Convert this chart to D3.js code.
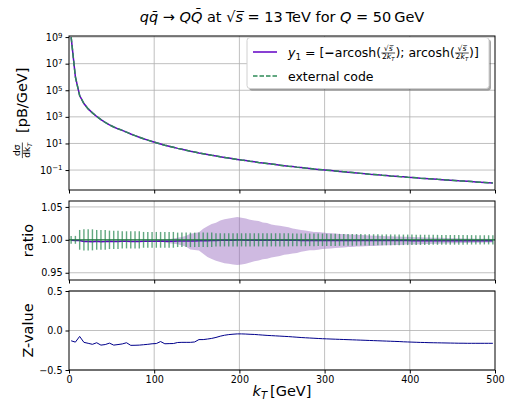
<!DOCTYPE html>
<html>
<head>
<meta charset="utf-8">
<script src="https://cdn.jsdelivr.net/npm/d3@7"></script>
<style>
  body { margin:0; background:#fff; }
  svg text { font-family:"DejaVu Sans", sans-serif; white-space:pre; }
</style>
</head>
<body>
<div id="canvas"></div>
<script>
// bin centres in GeV
var kT = [
  2.5,7.5,12.5,17.5,22.5,27.5,32.5,37.5,42.5,47.5,
  52.5,57.5,62.5,67.5,72.5,77.5,82.5,87.5,92.5,97.5,
  102.5,107.5,112.5,117.5,122.5,127.5,132.5,137.5,142.5,147.5,
  152.5,157.5,162.5,167.5,172.5,177.5,182.5,187.5,192.5,197.5,
  202.5,207.5,212.5,217.5,222.5,227.5,232.5,237.5,242.5,247.5,
  252.5,257.5,262.5,267.5,272.5,277.5,282.5,287.5,292.5,297.5,
  302.5,307.5,312.5,317.5,322.5,327.5,332.5,337.5,342.5,347.5,
  352.5,357.5,362.5,367.5,372.5,377.5,382.5,387.5,392.5,397.5,
  402.5,407.5,412.5,417.5,422.5,427.5,432.5,437.5,442.5,447.5,
  452.5,457.5,462.5,467.5,472.5,477.5,482.5,487.5,492.5,497.5
];

// log10 of dsigma/dkT [pB/GeV]
var dsigmaLog10 = [
  9.0,6.0,4.6,4.0,3.6,3.3,3.03,2.8,2.58,2.4,
  2.24,2.1,1.98,1.85,1.71,1.59,1.47,1.35,1.25,1.15,
  1.05,0.96,0.87,0.79,0.71,0.63,0.56,0.49,0.42,0.36,
  0.29,0.23,0.17,0.11,0.06,0.0,-0.05,-0.10,-0.15,-0.20,
  -0.25,-0.29,-0.34,-0.38,-0.43,-0.47,-0.51,-0.55,-0.59,-0.63,
  -0.67,-0.71,-0.74,-0.78,-0.81,-0.85,-0.88,-0.92,-0.95,-0.98,
  -1.01,-1.04,-1.07,-1.10,-1.13,-1.16,-1.19,-1.22,-1.25,-1.28,
  -1.31,-1.33,-1.36,-1.39,-1.41,-1.44,-1.46,-1.49,-1.51,-1.54,
  -1.56,-1.58,-1.61,-1.63,-1.65,-1.67,-1.70,-1.72,-1.74,-1.76,
  -1.78,-1.81,-1.83,-1.85,-1.87,-1.89,-1.91,-1.93,-1.95,-1.97
];

// ratio of y1 result to external code
var ratioY1 = [
  0.9992,0.9991,0.9989,0.9976,0.9974,0.9972,0.9977,0.9972,0.9973,0.9978,
  0.9974,0.9975,0.9978,0.998,0.9976,0.9976,0.9976,0.9978,0.9979,0.998,
  0.998,0.9983,0.998,0.998,0.998,0.9983,0.9984,0.9984,0.9984,0.9984,
  0.9987,0.9987,0.9988,0.9989,0.9991,0.9993,0.9994,0.9995,0.9995,0.9996,
  0.9996,0.9995,0.9995,0.9995,0.9995,0.9994,0.9994,0.9993,0.9993,0.9993,
  0.9993,0.9992,0.9992,0.9992,0.9991,0.9991,0.9991,0.9991,0.999,0.999,
  0.999,0.999,0.999,0.999,0.999,0.999,0.999,0.999,0.999,0.999,
  0.9989,0.9989,0.9989,0.9989,0.9989,0.9989,0.9989,0.9989,0.9989,0.9989,
  0.9988,0.9988,0.9988,0.9988,0.9988,0.9988,0.9988,0.9988,0.9988,0.9988,
  0.9988,0.9988,0.9988,0.9988,0.9988,0.9988,0.9988,0.9988,0.9988,0.9988
];

// y1 uncertainty band (up / down deviation)
var bandUp = [
  0.0005,0.0005,0.0005,0.0005,0.0005,0.0005,0.0005,0.0005,0.0005,0.0005,
  0.0008,0.0008,0.0008,0.0008,0.0008,0.0008,0.0008,0.0008,0.0008,0.0008,
  0.001,0.001,0.002,0.003,0.004,0.005,0.006,0.008,0.011,0.012,
  0.013,0.018,0.022,0.025,0.027,0.030,0.032,0.033,0.034,0.035,
  0.034,0.033,0.031,0.030,0.029,0.027,0.026,0.024,0.023,0.022,
  0.021,0.020,0.018,0.017,0.016,0.015,0.014,0.013,0.013,0.012,
  0.0115,0.011,0.0105,0.010,0.0097,0.0093,0.009,0.0087,0.0084,0.0081,
  0.0078,0.0075,0.0072,0.007,0.0067,0.0065,0.0063,0.0061,0.0059,0.0057,
  0.0055,0.0053,0.0051,0.0049,0.0047,0.0045,0.0043,0.0042,0.004,0.0038,
  0.0037,0.0035,0.0034,0.0032,0.0031,0.003,0.0029,0.0028,0.0027,0.0026
];
var bandDown = [
  0.0005,0.0005,0.0005,0.0005,0.0005,0.0005,0.0005,0.0005,0.0005,0.0005,
  0.0008,0.0008,0.0008,0.0008,0.0008,0.0008,0.0008,0.0008,0.0008,0.0008,
  0.001,0.001,0.002,0.003,0.004,0.005,0.007,0.009,0.013,0.014,
  0.015,0.020,0.025,0.028,0.031,0.033,0.035,0.036,0.037,0.038,
  0.037,0.036,0.034,0.032,0.031,0.029,0.028,0.026,0.025,0.024,
  0.022,0.021,0.020,0.019,0.017,0.016,0.015,0.015,0.014,0.013,
  0.0125,0.012,0.0115,0.011,0.0105,0.010,0.0097,0.0093,0.009,0.0087,
  0.0084,0.0081,0.0078,0.0075,0.0072,0.007,0.0068,0.0066,0.0063,0.0061,
  0.0059,0.0057,0.0055,0.0053,0.0051,0.0049,0.0047,0.0045,0.0043,0.0041,
  0.004,0.0038,0.0036,0.0035,0.0034,0.0032,0.0031,0.003,0.0029,0.0028
];

// external code relative errors
var ratioErr = [
  0.006,0.006,0.015,0.016,0.016,0.016,0.015,0.015,0.015,0.014,
  0.014,0.014,0.013,0.013,0.013,0.013,0.013,0.012,0.012,0.012,
  0.012,0.012,0.012,0.012,0.012,0.011,0.011,0.011,0.011,0.011,
  0.011,0.011,0.011,0.011,0.010,0.010,0.010,0.010,0.010,0.010,
  0.010,0.010,0.010,0.010,0.010,0.010,0.010,0.010,0.010,0.010,
  0.010,0.010,0.0098,0.0098,0.0097,0.0097,0.0096,0.0096,0.0095,0.0095,
  0.0094,0.0093,0.0092,0.0091,0.009,0.009,0.0089,0.0088,0.0087,0.0086,
  0.0086,0.0085,0.0084,0.0083,0.0083,0.0082,0.0081,0.0081,0.008,0.008,
  0.008,0.0079,0.0078,0.0078,0.0077,0.0076,0.0076,0.0075,0.0075,0.0074,
  0.0074,0.0073,0.0073,0.0072,0.0072,0.0071,0.0071,0.007,0.007,0.007
];

var zValue = [
  -0.13,-0.147,-0.075,-0.15,-0.162,-0.175,-0.155,-0.185,-0.178,-0.16,
  -0.185,-0.178,-0.17,-0.155,-0.188,-0.187,-0.185,-0.18,-0.175,-0.168,
  -0.165,-0.14,-0.168,-0.166,-0.165,-0.152,-0.15,-0.15,-0.15,-0.145,
  -0.115,-0.115,-0.108,-0.1,-0.088,-0.072,-0.06,-0.052,-0.047,-0.043,
  -0.043,-0.045,-0.048,-0.05,-0.054,-0.058,-0.062,-0.065,-0.068,-0.071,
  -0.074,-0.077,-0.081,-0.085,-0.089,-0.092,-0.095,-0.098,-0.101,-0.104,
  -0.106,-0.108,-0.11,-0.112,-0.114,-0.116,-0.118,-0.12,-0.122,-0.124,
  -0.126,-0.128,-0.13,-0.132,-0.134,-0.136,-0.138,-0.14,-0.143,-0.145,
  -0.147,-0.149,-0.151,-0.152,-0.154,-0.155,-0.156,-0.157,-0.158,-0.159,
  -0.16,-0.161,-0.161,-0.162,-0.162,-0.162,-0.162,-0.162,-0.162,-0.162
];

var xTicks = [0,100,200,300,400,500];
var topTickExp = [9,7,5,3,1,-1];
var ratioTicks = [0.95,1.00,1.05];
var zTicks = [-0.5,0.0,0.5];

var W = 507, H = 403;
var xL = 69, xR = 495;
var pTop = [36,190], pRat = [201,280], pZ = [291,370];
var purple = '#6200c4', green = '#2e8b57', navy = '#00008b', grid = '#b0b0b0';

var svg = d3.select('#canvas').append('svg').attr('width',W).attr('height',H);

var x = d3.scaleLinear().domain([0,500]).range([xL,xR]);
var yTop = d3.scaleLog().domain([Math.pow(10,-2.5),Math.pow(10,9.08)]).range([pTop[1],pTop[0]]);
var yRat = d3.scaleLinear().domain([0.939,1.059]).range([pRat[1],pRat[0]]);
var yZ = d3.scaleLinear().domain([-0.5,0.5]).range([pZ[1],pZ[0]]);

var minus = function(s){ return String(s).replace('-','\u2212'); };

// rich text helper: pieces placed one after another
function rich(g, x0, y0, pieces, size){
  var cx = x0;
  pieces.forEach(function(p){
    if (p.frac){
      var fs = size*0.62;
      var gn = g.append('g'), gd = g.append('g');
      var wn = rich(gn,0,0,p.frac[0],fs), wd = rich(gd,0,0,p.frac[1],fs);
      var w = Math.max(wn,wd)+1.5;
      var axis = y0 - size*0.32;
      gn.attr('transform','translate('+(cx+(w-wn)/2)+','+(axis-fs*0.22)+')');
      gd.attr('transform','translate('+(cx+(w-wd)/2)+','+(axis+fs*0.82)+')');
      g.append('line').attr('x1',cx+0.3).attr('x2',cx+w-0.3).attr('y1',axis).attr('y2',axis)
        .attr('stroke','#000').attr('stroke-width',0.7);
      cx += w;
    } else {
      var fs = (p.sub||p.sup) ? size*0.7 : size;
      var dy = p.sub ? size*0.22 : (p.sup ? -size*0.42 : 0);
      var t = g.append('text').attr('x',cx).attr('y',y0+dy).style('font-size',fs+'px').text(p.t);
      if (p.it) t.style('font-style','italic');
      if (p.b) t.style('font-weight','bold');
      cx += t.node().getComputedTextLength();
    }
  });
  return cx - x0;
}
function richCentered(parent, cx, cy, pieces, size){
  var g = parent.append('g');
  var w = rich(g, 0, 0, pieces, size);
  g.attr('transform','translate('+(cx-w/2)+','+cy+')');
  return g;
}

// grids
function xGrid(p){
  svg.append('g').selectAll('line').data(xTicks.slice(1,-1)).enter().append('line')
    .attr('x1',function(d){return x(d);}).attr('x2',function(d){return x(d);})
    .attr('y1',p[0]).attr('y2',p[1]).attr('stroke',grid).attr('stroke-width',0.8);
}
xGrid(pTop); xGrid(pRat); xGrid(pZ);
svg.append('g').selectAll('line').data(topTickExp).enter().append('line')
  .attr('x1',xL).attr('x2',xR)
  .attr('y1',function(d){return yTop(Math.pow(10,d));}).attr('y2',function(d){return yTop(Math.pow(10,d));})
  .attr('stroke',grid).attr('stroke-width',0.8);
svg.append('g').selectAll('line').data(ratioTicks).enter().append('line')
  .attr('x1',xL).attr('x2',xR).attr('y1',function(d){return yRat(d);}).attr('y2',function(d){return yRat(d);})
  .attr('stroke',grid).attr('stroke-width',0.8);
svg.append('g').selectAll('line').data(zTicks).enter().append('line')
  .attr('x1',xL).attr('x2',xR).attr('y1',function(d){return yZ(d);}).attr('y2',function(d){return yZ(d);})
  .attr('stroke',grid).attr('stroke-width',0.8);

// top panel curves
var topLine = d3.line()
  .x(function(d,i){return x(kT[i]);})
  .y(function(d){return yTop(Math.pow(10,d));});
svg.append('path').datum(dsigmaLog10).attr('d',topLine)
  .attr('fill','none').attr('stroke',purple).attr('stroke-width',1.5);
svg.append('path').datum(dsigmaLog10).attr('d',topLine)
  .attr('fill','none').attr('stroke',green).attr('stroke-width',1.5).attr('stroke-dasharray','5.5,2.4');

// ratio panel
var band = d3.area()
  .x(function(d,i){return x(kT[i]);})
  .y0(function(d,i){return yRat(d - bandDown[i]);})
  .y1(function(d,i){return yRat(d + bandUp[i]);});
svg.append('path').datum(ratioY1).attr('d',band).attr('fill','#9467bd').attr('fill-opacity',0.45);
svg.append('path').datum(ratioY1)
  .attr('d',d3.line().x(function(d,i){return x(kT[i]);}).y(function(d){return yRat(d);}))
  .attr('fill','none').attr('stroke',purple).attr('stroke-width',1.5);
svg.append('g').selectAll('line').data(ratioErr).enter().append('line')
  .attr('x1',function(d,i){return x(kT[i]);}).attr('x2',function(d,i){return x(kT[i]);})
  .attr('y1',function(d){return yRat(1+d);}).attr('y2',function(d){return yRat(1-d);})
  .attr('stroke',green).attr('stroke-width',1.4).attr('stroke-opacity',0.75);
svg.append('line').attr('x1',xL).attr('x2',xR).attr('y1',yRat(1)).attr('y2',yRat(1))
  .attr('stroke','#1f7a3f').attr('stroke-width',1.3);

// z panel
svg.append('path').datum(zValue)
  .attr('d',d3.line().x(function(d,i){return x(kT[i]);}).y(function(d){return yZ(d);}))
  .attr('fill','none').attr('stroke',navy).attr('stroke-width',1);

// frames and axes
function frame(p){
  svg.append('rect').attr('x',xL).attr('y',p[0]).attr('width',xR-xL).attr('height',p[1]-p[0])
    .attr('fill','none').attr('stroke','#000').attr('stroke-width',1);
}
frame(pTop); frame(pRat); frame(pZ);

function styleAxis(g){
  g.select('.domain').remove();
  g.selectAll('text').style('font-size','9.6px').attr('fill','#000');
  g.selectAll('line').attr('stroke','#000');
}
[pTop,pRat].forEach(function(p){
  svg.append('g').attr('transform','translate(0,'+p[1]+')')
    .call(d3.axisBottom(x).tickValues(xTicks).tickSize(3.5).tickFormat(''))
    .call(styleAxis);
});
svg.append('g').attr('transform','translate(0,'+pZ[1]+')')
  .call(d3.axisBottom(x).tickValues(xTicks).tickSize(3.5).tickPadding(2.5))
  .call(styleAxis);

var ax = svg.append('g').attr('transform','translate('+xL+',0)')
  .call(d3.axisLeft(yTop).tickValues(topTickExp.map(function(e){return Math.pow(10,e);})).tickSize(3.5).tickPadding(3).tickFormat(''))
  .call(styleAxis);
ax.selectAll('.tick text').each(function(d){
  var t = d3.select(this);
  var e = Math.round(Math.log10(d));
  t.text(null).attr('dy','0.32em');
  t.append('tspan').text('10');
  t.append('tspan').attr('dy','-0.45em').style('font-size','7px').text(minus(e));
});
svg.append('g').attr('transform','translate('+xL+',0)')
  .call(d3.axisLeft(yRat).tickValues(ratioTicks).tickSize(3.5).tickPadding(3).tickFormat(d3.format('.2f')))
  .call(styleAxis);
svg.append('g').attr('transform','translate('+xL+',0)')
  .call(d3.axisLeft(yZ).tickValues(zTicks).tickSize(3.5).tickPadding(3).tickFormat(function(d){return minus(d3.format('.1f')(d));}))
  .call(styleAxis);

// title
richCentered(svg, (xL+xR)/2, 22, [
  {t:'q',it:1},{t:'q\u0304',it:1},{t:' \u2192 '},{t:'Q',it:1},{t:'Q\u0304',it:1},
  {t:' at '},{t:'\u221A'},{t:'s\u0305',it:1},{t:' = 13\u2009TeV for '},{t:'Q',it:1},{t:' = 50\u2009GeV'}
], 14.5);

// axis labels
var yl = svg.append('g').attr('transform','translate(27,'+((pTop[0]+pTop[1])/2)+') rotate(-90)');
var ylg = yl.append('g');
var wyl = rich(ylg, 0, 0, [
  {frac:[[{t:'d\u03C3'}],[{t:'dk'},{t:'T',it:1,sub:1}]]},{t:'  [pB/GeV]'}
], 14.5);
ylg.attr('transform','translate('+(-wyl/2)+',0)');

svg.append('text').attr('transform','translate(33,'+((pRat[0]+pRat[1])/2)+') rotate(-90)')
  .attr('text-anchor','middle').style('font-size','14.5px').text('ratio');
svg.append('text').attr('transform','translate(33,'+((pZ[0]+pZ[1])/2)+') rotate(-90)')
  .attr('text-anchor','middle').style('font-size','14.5px').text('Z-value');

richCentered(svg, (xL+xR)/2, 396, [
  {t:'k',it:1},{t:'T',it:1,sub:1},{t:'\u2009[GeV]'}
], 14.5);

// legend
var lg = svg.append('g');
lg.append('rect').attr('x',249).attr('y',39.5).attr('width',242).attr('height',51).attr('rx',3)
  .attr('fill','#000').attr('fill-opacity',0.35);
lg.append('rect').attr('x',247).attr('y',37.5).attr('width',242).attr('height',51).attr('rx',3)
  .attr('fill','#fff').attr('stroke','#d0d0d0').attr('stroke-width',1);
lg.append('line').attr('x1',253).attr('x2',277).attr('y1',52).attr('y2',52)
  .attr('stroke',purple).attr('stroke-width',1.5);
lg.append('line').attr('x1',253).attr('x2',277).attr('y1',76).attr('y2',76)
  .attr('stroke',green).attr('stroke-width',1.5).attr('stroke-dasharray','4.5,2');
var sq = [{t:'\u221A'},{t:'s\u0305',it:1}];
var dn = [{t:'2'},{t:'k',it:1},{t:'T',it:1,sub:1}];
rich(lg, 288, 57, [
  {t:'y',it:1},{t:'1',sub:1},{t:' = ['},{t:'\u2212',b:1},{t:'arcosh('},{frac:[sq,dn]},
  {t:'); arcosh('},{frac:[sq,dn]},{t:')]'}
], 12.5);
rich(lg, 288, 81, [{t:'external code'}], 12.5);
</script>
</body>
</html>
